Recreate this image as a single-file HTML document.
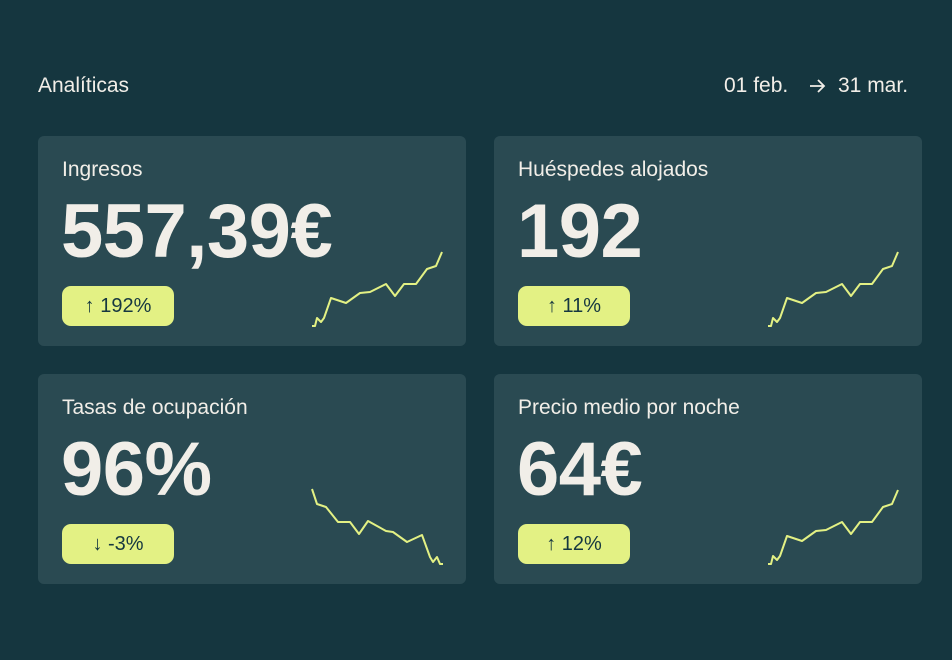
<!DOCTYPE html>
<html><head><meta charset="utf-8"><style>
html,body{margin:0;padding:0}
body{width:952px;height:660px;background:#15363f;font-family:"Liberation Sans",sans-serif;color:#f1eee8;position:relative;overflow:hidden}
.t{position:absolute;font-size:21px}
.card{position:absolute;width:428px;height:210px;background:#2a4a52;border-radius:6px}
.lbl{position:absolute;left:24px;top:22px;font-size:21px}
.num{position:absolute;left:23px;top:51px;font-size:76px;font-weight:bold;letter-spacing:-0.5px;line-height:90px}
.pill{position:absolute;left:24px;top:150px;width:112px;height:40px;border-radius:9px;background:#e3f184;color:#163740;font-size:20px;line-height:40px;text-align:center}
svg{position:absolute;left:0;top:0}
</style></head><body>
<div class="t" style="left:38px;top:74px">Analíticas</div>
<div class="t" style="left:724px;top:74px">01 feb.</div>
<div class="t" style="left:838px;top:74px">31 mar.</div>
<div class="card" style="left:38px;top:136px"><div class="lbl">Ingresos</div><div class="num">557,39€</div><div class="pill">↑ 192%</div></div>
<div class="card" style="left:494px;top:136px"><div class="lbl">Huéspedes alojados</div><div class="num">192</div><div class="pill">↑ 11%</div></div>
<div class="card" style="left:38px;top:374px"><div class="lbl">Tasas de ocupación</div><div class="num">96%</div><div class="pill">↓ -3%</div></div>
<div class="card" style="left:494px;top:374px"><div class="lbl">Precio medio por noche</div><div class="num">64€</div><div class="pill">↑ 12%</div></div>
<svg width="952" height="660">
<path d="M810 86 H824 M818 80 L824 86 L818 92" fill="none" stroke="#f1eee8" stroke-width="1.8"/>
<defs><polyline id="up" fill="none" stroke="#e3f184" stroke-width="2" stroke-linejoin="round" points="312,326 315,326 317,318 321,322 324,318 331,298 346,303 360,293 370,292 386,284 395,296 404,284 416,284 427,269 436,266 442,252"/></defs>
<use href="#up"/>
<use href="#up" x="456"/>
<use href="#up" x="456" y="238"/>
<polyline fill="none" stroke="#e3f184" stroke-width="2" stroke-linejoin="round" points="312,489 317,504 326,507 338,522 350,522 359,534 368,521 386,531 393,532 407,542 422,535 430,557 433,562 437,557 440,564 443,564"/>
</svg>
</body></html>
